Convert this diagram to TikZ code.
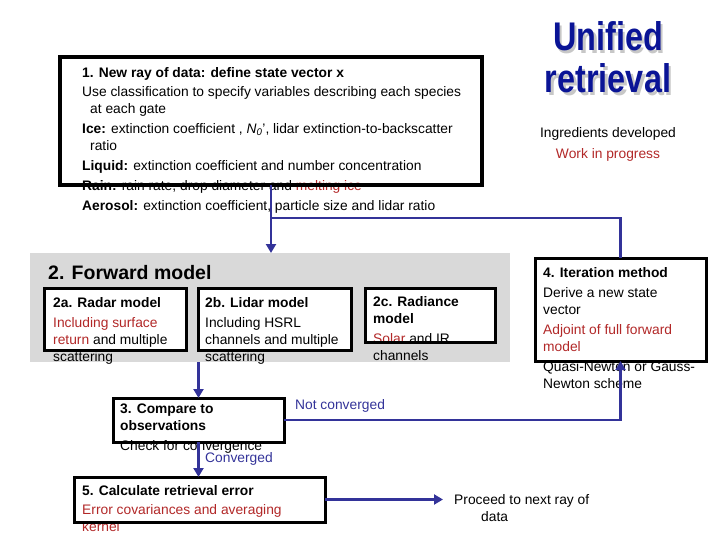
\documentclass[tikz,border=0pt]{standalone}
\usepackage{fontspec}
\setmainfont{Liberation Sans}
\usetikzlibrary{arrows.meta,calc}

\definecolor{flowblue}{RGB}{51,51,153}
\definecolor{inkred}{RGB}{178,40,40}
\definecolor{panelgray}{RGB}{217,217,217}
\definecolor{titleblue}{RGB}{10,20,150}

\newcommand{\hl}[1]{\textcolor{inkred}{#1}}

\tikzset{
  boxarea/.style={anchor=north west, inner sep=0pt, outer sep=0pt, fill=white},
  frame/.style={draw=black, line width=3pt},
  body/.style={anchor=north west, align=left, inner sep=0pt, font=\fontsize{13.8}{17}\selectfont},
  flow/.style={draw=flowblue, line width=2.5pt},
  flowarrow/.style={flow, -{Triangle[width=10pt,length=9pt]}},
  bluelabel/.style={anchor=west, inner sep=0pt, text=flowblue, font=\fontsize{13.8}{17}\selectfont},
  titletext/.style={anchor=base, inner sep=0pt, font=\fontsize{40}{44}\selectfont\bfseries},
}

\begin{document}
\begin{tikzpicture}[x=1pt, y=-1pt, line join=miter]
\useasboundingbox (0,0) rectangle (720,540);

% Titolo
\node[titletext, text=black!22] at (610.5,53.5) {\scalebox{0.81}[1]{Unified}};
\node[titletext, text=titleblue] (title1) at (608,51) {\scalebox{0.81}[1]{Unified}};
\node[titletext, text=black!22] at (610.5,95.5) {\scalebox{0.81}[1]{retrieval}};
\node[titletext, text=titleblue] (title2) at (608,93) {\scalebox{0.81}[1]{retrieval}};
\node[body, anchor=north, align=center] (status) at (608,127)
  {Ingredients developed\\[4pt]\hl{Work in progress}};

% Riquadro 1
\node[boxarea, fill=none, minimum width=422pt, minimum height=128pt] (ray) at (60,57) {};
\node[body] (raytext) at (82,67) {%
  \textbf{1. New ray of data: define state vector x}\\[2pt]
  Use classification to specify variables describing each species\\
  \hspace*{8pt}at each gate\\[3pt]
  \textbf{Ice:} extinction coefficient , \textit{N\textsubscript{0}}', lidar extinction-to-backscatter\\
  \hspace*{8pt}ratio\\[3pt]
  \textbf{Liquid:} extinction coefficient and number concentration\\[3pt]
  \textbf{Rain:} rain rate, drop diameter and \hl{melting ice}\\[3pt]
  \textbf{Aerosol:} extinction coefficient, particle size and lidar ratio};

% Modello diretto
\node[boxarea, fill=panelgray, minimum width=480pt, minimum height=109pt] (forward) at (30,253) {};
\node[anchor=west, inner sep=0pt, font=\fontsize{19.5}{21}\selectfont\bfseries] (fwdtitle) at (48,273) {2. Forward model};

\node[boxarea, minimum width=142pt, minimum height=62pt] (radar) at (44,288) {};
\node[boxarea, minimum width=153pt, minimum height=62pt] (lidar) at (198,288) {};
\node[boxarea, minimum width=130pt, minimum height=54pt] (radiance) at (365,288) {};

\node[body] (radartext) at (53,297)
  {\textbf{2a. Radar model}\\[3pt]\hl{Including surface}\\\hl{return} and multiple\\scattering};
\node[body] (lidartext) at (205,297)
  {\textbf{2b. Lidar model}\\[3pt]Including HSRL\\channels and multiple\\scattering};
\node[body] (radiancetext) at (373,296)
  {\textbf{2c. Radiance}\\\textbf{model}\\[3pt]\hl{Solar} and IR\\channels};

% Iterazione
\node[boxarea, minimum width=171pt, minimum height=103pt] (iter) at (535,258) {};
\node[body] (itertext) at (543,267)
  {\textbf{4. Iteration method}\\[3pt]Derive a new state\\vector\\[3pt]%
   \hl{Adjoint of full forward}\\\hl{model}\\[3pt]Quasi-Newton or Gauss-\\Newton scheme};

% Confronto
\node[boxarea, minimum width=171pt, minimum height=44pt] (compare) at (113,398) {};
\node[body] (comparetext) at (120,404)
  {\textbf{3. Compare to}\\\textbf{observations}\\[3pt]Check for convergence};

% Errore
\node[boxarea, minimum width=251pt, minimum height=45pt] (error) at (74,477) {};
\node[body] (errortext) at (82,485)
  {\textbf{5. Calculate retrieval error}\\[2pt]\hl{Error covariances and averaging}\\\hl{kernel}};

\node[body] (next) at (454,494) {Proceed to next ray of\\\hspace*{27pt}data};

% Cornici
\draw[frame, line width=3.5pt] (ray.north west) rectangle (ray.south east);
\draw[frame] (radar.north west) rectangle (radar.south east);
\draw[frame] (lidar.north west) rectangle (lidar.south east);
\draw[frame] (radiance.north west) rectangle (radiance.south east);
\draw[frame] (iter.north west) rectangle (iter.south east);
\draw[frame] (compare.north west) rectangle (compare.south east);
\draw[frame] (error.north west) rectangle (error.south east);

% Frecce
\coordinate (merge) at ($(ray.south)+(0,33)$);
\coordinate (nextin) at ($(next.west)+(-11,0)$);
\draw[flow] (iter.north) |- (merge);
\draw[flowarrow] (ray.south) -- (ray.south |- forward.north);
\draw[flowarrow] (compare.north |- forward.south) -- (compare.north);
\draw[flowarrow] (compare.east) -| (iter.south);
\draw[flowarrow] (compare.south) -- (compare.south |- error.north);
\draw[flowarrow] (error.east) -- (error.east -| nextin);

\node[bluelabel] (notconv) at (295,406) {Not converged};
\node[bluelabel] (conv) at (205,459) {Converged};

\end{tikzpicture}
\end{document}
